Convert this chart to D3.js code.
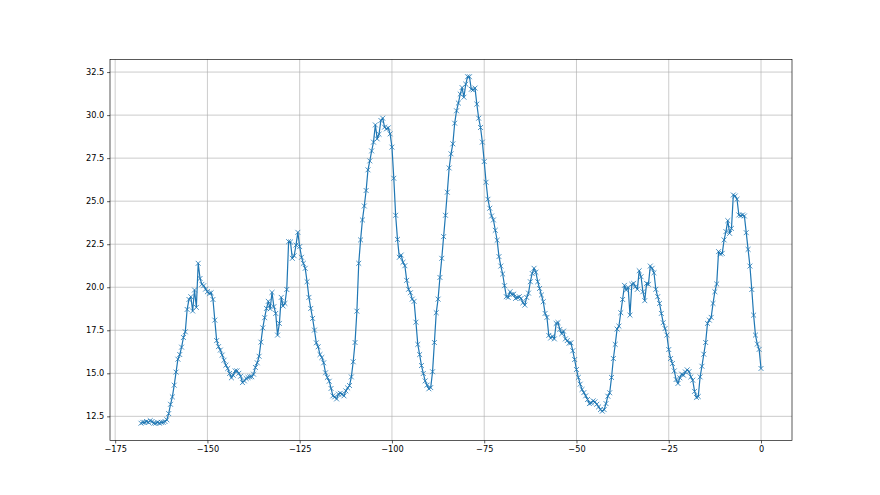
<!DOCTYPE html>
<html>
<head>
<meta charset="utf-8">
<script src="https://cdn.jsdelivr.net/npm/d3@7"></script>
<style>
  body { margin: 0; background: #fff; }
  text { font-family: "DejaVu Sans", sans-serif; }
</style>
</head>
<body>
<div id="chart"></div>
<script>
// Half-hourly readings over the last week (hours before now)
const hourStart = -168;
const hourStep = 0.5;

const readings = [
  // -168 .. -112
  12.1, 12.15, 12.15, 12.2, 12.15, 12.25, 12.2, 12.1, 12.1, 12.15,
  12.1, 12.15, 12.15, 12.2, 12.3, 12.66, 13.2, 13.63, 14.31, 15.07,
  15.82, 16.09, 16.52, 17.08, 17.41, 18.71, 19.29, 19.45, 18.62, 19.84,
  18.83, 21.39, 20.51, 20.17, 20.09, 19.89, 19.74, 19.64, 19.68, 19.29,
  18.09, 16.9, 16.55, 16.35, 16.06, 15.76, 15.47, 15.28, 14.99, 14.74,
  14.89, 15.14, 15.14, 15.0, 14.83, 14.46, 14.56, 14.7, 14.76, 14.8,
  14.8, 14.95, 15.34, 15.61, 15.99, 16.81, 17.64, 18.23, 18.77, 19.18,
  18.75, 19.7, 18.87, 18.48, 17.22, 17.9, 19.41, 18.91, 19.06, 19.87,
  22.65, 22.63, 21.68, 21.83, 22.45, 23.19, 22.36, 21.74, 21.39, 21.1,
  20.32, 19.41, 18.77, 18.19, 17.51, 16.77, 16.54, 16.09, 15.92, 15.61,
  15.03, 14.76, 14.54, 14.12, 13.69, 13.63, 13.51, 13.79, 13.84, 13.79,
  13.69, 13.98, 14.15,
  // -111.5 .. -52
  14.29, 14.79, 15.67, 16.79, 18.61, 21.39, 22.75, 23.91, 24.72, 25.62,
  26.82, 27.34, 27.92, 28.43, 29.43, 28.62, 28.89, 29.69, 29.82, 29.3,
  29.2, 29.26, 28.91, 28.14, 26.33, 24.18, 22.78, 21.74, 21.87, 21.45,
  21.25, 20.4, 19.88, 19.68, 19.31, 19.18, 17.97, 16.68, 16.09, 15.45,
  14.99, 14.56, 14.31, 14.1, 14.17, 15.09, 16.79, 18.52, 19.31, 20.57,
  21.68, 22.94, 24.18, 25.52, 26.93, 27.75, 28.33, 29.53, 30.25, 30.7,
  31.22, 31.6, 31.04, 31.8, 32.23, 32.23, 31.5, 31.47, 31.57, 30.64,
  29.82, 29.28, 28.43, 27.3, 26.1, 25.11, 24.59, 24.14, 23.91, 23.31,
  22.73, 21.78, 21.23, 20.77, 20.09, 19.45, 19.41, 19.74, 19.58, 19.6,
  19.35, 19.41, 19.45, 19.35, 19.1, 18.96, 19.41, 19.66, 20.32, 20.8,
  21.1, 20.87, 20.32, 19.93, 19.55, 19.16, 18.48, 18.25, 17.2, 17.05,
  17.15, 17.0, 17.9, 17.95, 17.55, 17.3, 17.45, 17.0, 16.9, 16.75,
  // -51.5 .. 0
  16.77, 16.31, 15.8, 15.22, 14.76, 14.37, 14.06, 13.88, 13.69, 13.48,
  13.24, 13.28, 13.4, 13.34, 13.2, 13.05, 12.89, 12.8, 12.89, 13.24,
  13.67, 13.87, 14.76, 15.86, 16.68, 17.57, 17.74, 18.52, 19.29, 20.11,
  19.84, 19.99, 18.38, 20.17, 20.22, 20.03, 19.88, 20.96, 20.61, 19.74,
  19.22, 20.22, 20.17, 21.23, 21.1, 20.84, 19.88, 19.45, 19.06, 18.48,
  17.94, 17.6, 17.22, 16.38, 15.86, 15.57, 15.14, 14.64, 14.41, 14.74,
  14.95, 14.89, 15.08, 15.2, 15.1, 14.79, 14.6, 13.95, 13.6, 13.65,
  14.79, 15.41, 16.11, 16.79, 17.9, 18.09, 18.25, 19.06, 19.74, 20.19,
  22.07, 21.93, 21.97, 22.75, 23.23, 23.87, 23.13, 23.42, 25.36, 25.3,
  25.11, 24.2, 24.16, 24.2, 24.14, 23.17, 22.2, 21.23, 19.87, 18.38,
  17.22, 16.7, 16.39, 15.28
];

const xTicks = [-175, -150, -125, -100, -75, -50, -25, 0];
const yTicks = [12.5, 15, 17.5, 20, 22.5, 25, 27.5, 30, 32.5];

const data = readings.map((v, i) => ({ x: hourStart + i * hourStep, y: v }));

// Figure size and axes box (matplotlib default subplot params)
const width = 880, height = 495;
const margin = { top: 59.4, right: 88, bottom: 54.45, left: 110 };

const svg = d3.select("#chart")
  .append("svg")
  .attr("width", width)
  .attr("height", height);

// 5% padding round the data, like autoscale
const xExt = d3.extent(data, d => d.x);
const yExt = d3.extent(data, d => d.y);
const xPad = (xExt[1] - xExt[0]) * 0.05;
const yPad = (yExt[1] - yExt[0]) * 0.05;

const x = d3.scaleLinear()
  .domain([xExt[0] - xPad, xExt[1] + xPad])
  .range([margin.left, width - margin.right]);
const y = d3.scaleLinear()
  .domain([yExt[0] - yPad, yExt[1] + yPad])
  .range([height - margin.bottom, margin.top]);

const fmtX = d => (d < 0 ? "\u2212" + Math.abs(d) : String(d));
const fmtY = d3.format(".1f");

// Grid
const grid = svg.append("g").attr("stroke", "#b0b0b0").attr("stroke-width", 0.65);
grid.selectAll(".gx").data(xTicks).enter().append("line")
  .attr("x1", d => x(d)).attr("x2", d => x(d))
  .attr("y1", margin.top).attr("y2", height - margin.bottom);
grid.selectAll(".gy").data(yTicks).enter().append("line")
  .attr("x1", margin.left).attr("x2", width - margin.right)
  .attr("y1", d => y(d)).attr("y2", d => y(d));

// Line + x markers
const line = d3.line().x(d => x(d.x)).y(d => y(d.y));
svg.append("path")
  .datum(data)
  .attr("fill", "none")
  .attr("stroke", "#1f77b4")
  .attr("stroke-width", 1.2)
  .attr("stroke-linejoin", "round")
  .attr("d", line);

const m = 2.45;
svg.append("g")
  .selectAll("path")
  .data(data)
  .enter()
  .append("path")
  .attr("fill", "none")
  .attr("stroke", "#1f77b4")
  .attr("stroke-width", 0.8)
  .attr("d", d => {
    const cx = x(d.x), cy = y(d.y);
    return `M${cx - m},${cy - m}L${cx + m},${cy + m}M${cx - m},${cy + m}L${cx + m},${cy - m}`;
  });

// Axes
const xAxis = d3.axisBottom(x).tickValues(xTicks).tickFormat(fmtX).tickSize(2.9).tickPadding(2.9);
const yAxis = d3.axisLeft(y).tickValues(yTicks).tickFormat(fmtY).tickSize(2.9).tickPadding(2.9);

const gx = svg.append("g")
  .attr("transform", `translate(0,${height - margin.bottom})`)
  .call(xAxis);
const gy = svg.append("g")
  .attr("transform", `translate(${margin.left},0)`)
  .call(yAxis);

[gx, gy].forEach(g => {
  g.select(".domain").remove();
  g.selectAll(".tick line").attr("stroke", "#000").attr("stroke-width", 0.65);
  g.selectAll(".tick text")
    .attr("fill", "#000")
    .style("font-family", "'DejaVu Sans', sans-serif")
    .style("font-size", "8.2px");
});

// Spines
svg.append("rect")
  .attr("x", margin.left)
  .attr("y", margin.top)
  .attr("width", width - margin.left - margin.right)
  .attr("height", height - margin.top - margin.bottom)
  .attr("fill", "none")
  .attr("stroke", "#000")
  .attr("stroke-width", 0.65);
</script>
</body>
</html>
